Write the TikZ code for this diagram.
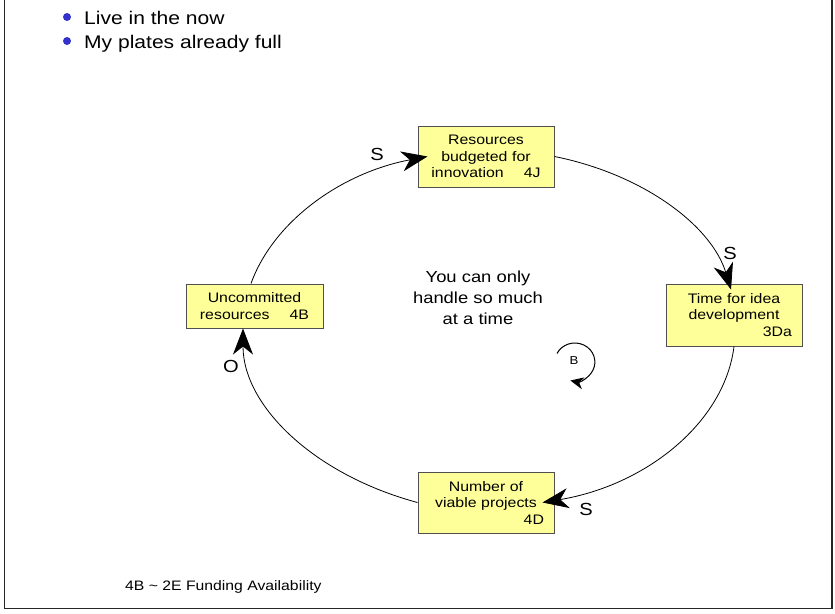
\documentclass[tikz,border=0pt]{standalone}
\usepackage{fontspec}
\setmainfont{Liberation Sans}[FakeStretch=1.15]
\usetikzlibrary{arrows.meta}
\definecolor{boxfill}{HTML}{FFFF99}
\definecolor{boxline}{HTML}{505050}
\definecolor{dotblue}{HTML}{3333CC}
\begin{document}
\begin{tikzpicture}[x=1pt,y=-1pt,
  cbox/.style={draw=boxline,line width=1pt,fill=boxfill,inner sep=0pt,
    minimum width=136pt,text width=116pt,align=center,
    font=\fontsize{13.8}{16.5}\selectfont},
  conn/.style={line width=0.8pt,-{Stealth[length=26pt,width=20pt,inset=8pt]}},
  polarity/.style={font=\fontsize{17.5}{20}\selectfont,inner sep=0pt},
  bullettext/.style={anchor=base west,inner sep=0pt,font=\fontsize{18.3}{22}\selectfont},
  frame/.style={line width=1.6pt,draw=black!85}]
\useasboundingbox (0,0) rectangle (835,613);

% page frame
\draw[frame] (4.5,0) -- (4.5,608.5) -- (832,608.5) -- (832,0);

% bullet list
\fill[dotblue] (67,17) circle[radius=4];
\fill[dotblue] (67,41) circle[radius=4];
\node[bullettext] (b1) at (84,24) {Live in the now};
\node[bullettext] (b2) at (84,48) {My plates already full};

% loop variables
\node[cbox,minimum height=61pt] (res) at (486,156.5)
  {Resources\\budgeted for\\innovation\hspace{20pt}4J};
\node[cbox,minimum height=62pt] (tim) at (734,315)
  {Time for idea\\development\\\hspace*{\fill}3Da};
\node[cbox,minimum height=61pt] (num) at (486,502.5)
  {Number of\\viable projects\\\hspace*{\fill}4D};
\node[cbox,minimum width=137pt,minimum height=44pt] (ucr) at (254.5,306)
  {Uncommitted\\resources\hspace{20pt}4B};

% causal links
\draw[conn] ([xshift=-3.5pt]ucr.north) .. controls (273.3,221.7) and (340.8,172.9) .. ([xshift=10pt]res.west);
\draw[conn] (res.east) .. controls (643.2,174.3) and (711.4,225.5) .. ([xshift=-3pt,yshift=-6pt]tim.north);
\draw[conn] (tim.south) .. controls (724.4,422.7) and (646.1,485.2) .. ([xshift=-12pt]num.east);
\draw[conn] (num.west) .. controls (314.1,474.7) and (243,405.9) .. ([xshift=-11.5pt]ucr.south);

% link polarities
\node[polarity] (s1) at (377,154) {S};
\node[polarity] (s2) at (730,253) {S};
\node[polarity] (s3) at (586,509) {S};
\node[polarity] (o1) at (231,366) {O};

% loop annotation
\node[align=center,inner sep=0pt,font=\fontsize{16}{21}\selectfont] (note) at (478,298)
  {You can only\\handle so much\\at a time};
\node[inner sep=0pt,font=\fontsize{11.5}{13}\selectfont] (bl) at (574,361) {B};
\draw[line width=1pt,-{Stealth[length=13pt,width=12pt,inset=4pt]}]
  (557,353.5) arc[start angle=206.6,end angle=463,x radius=20,y radius=19];

% footer
\node[anchor=base west,inner sep=0pt,font=\fontsize{13.7}{16}\selectfont] (foot) at (125,590)
  {4B \textasciitilde{} 2E Funding Availability};
\end{tikzpicture}
\end{document}
